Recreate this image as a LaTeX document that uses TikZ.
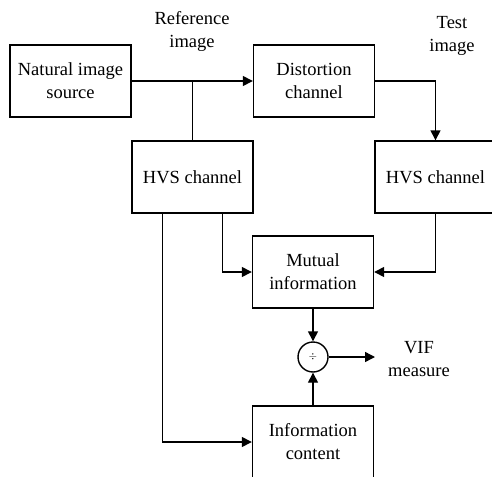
\documentclass[tikz,border=0pt]{standalone}
\usepackage{fontspec}
\setmainfont{Liberation Serif}
\usetikzlibrary{arrows}
\usetikzlibrary{arrows.meta}
\usetikzlibrary{shapes}
\usetikzlibrary{calc}
\tikzset{
  blk/.style={draw,line width=1.4pt,minimum width=121pt,minimum height=72pt,align=center,inner sep=0pt},
  lbl/.style={align=center,inner sep=0pt},
  >={Triangle[length=10pt,width=10pt]}
}
\begin{document}
\begin{tikzpicture}[x=1pt,y=-1pt,line width=1.4pt,font=\fontsize{18.5}{23}\selectfont]
                    \useasboundingbox (0,0) rectangle (492,476);
                    \draw (70.5,81) node[blk,name=src] {Natural image\\source};
                    \draw (314,81) node[blk,name=dist] {Distortion\\channel};
                    \draw (192.5,177) node[blk,name=hvsL] {HVS channel};
                    \draw (435.5,177) node[blk,name=hvsR] {HVS channel};
                    \draw (313,272) node[blk,name=mutual] {Mutual\\information};
                    \draw (313,442) node[blk,name=info] {Information\\content};
                    \draw (313,357) node[draw,circle,minimum size=30pt,inner sep=0pt,name=div] {\fontsize{11}{11}\selectfont$\div$};
                    \draw (192,31) node[lbl,name=reflbl] {Reference\\image};
                    \draw (452,36) node[lbl,name=testlbl] {Test\\image};
                    \draw (419,359) node[lbl,name=viflbl] {VIF\\measure};
                    \coordinate (branch) at (hvsL.north |- src.east);
                    \coordinate (vifend) at (375,357);
                    \draw[->] (src.east) -- (dist.west);
                    \draw (branch) -- (hvsL.north);
                    \draw[->] (dist.east) -| (hvsR.north);
                    \draw[->] (hvsR.south) |- (mutual.east);
                    \draw[->] ($ (hvsL.south) + (30,0) $) |- (mutual.west);
                    \draw[->] ($ (hvsL.south) + (-30,0) $) |- (info.west);
                    \draw[->] (mutual.south) -- (div.north);
                    \draw[->] (info.north) -- (div.south);
                    \draw[->] (div.east) -- (vifend);
                \end{tikzpicture}
\end{document}
